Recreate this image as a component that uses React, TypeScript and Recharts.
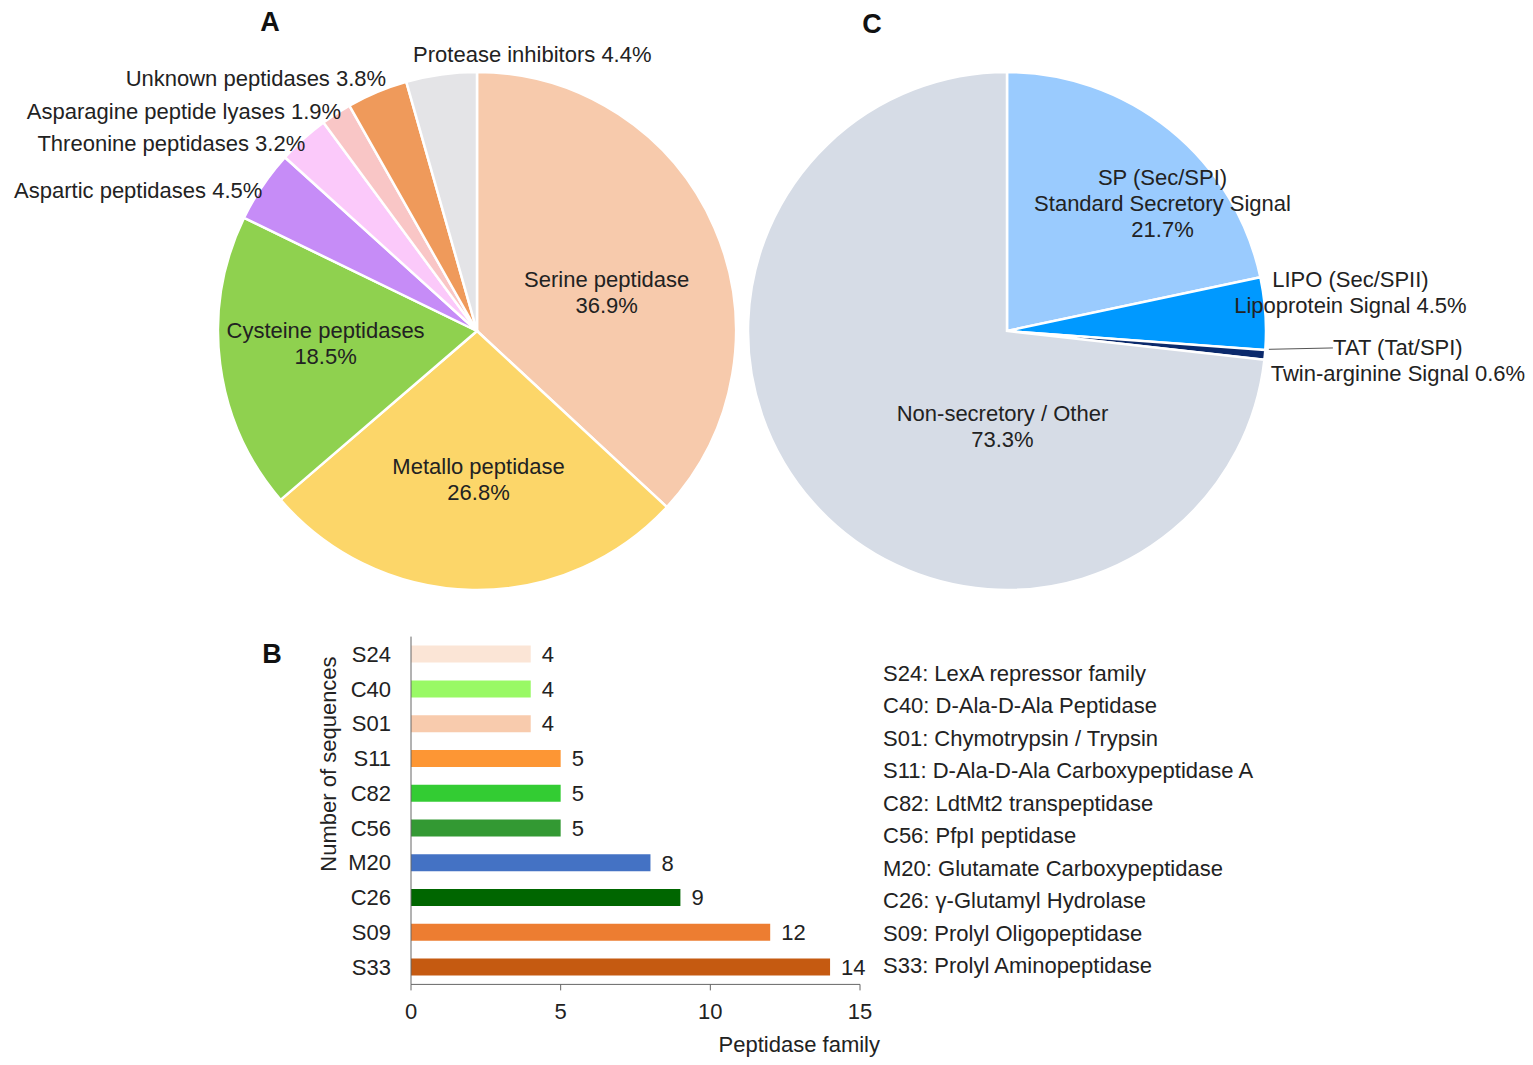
import React from 'react';
import {
  PieChart, Pie, Cell, BarChart, Bar, XAxis, YAxis, LabelList,
} from 'recharts';

// Panel A: peptidase classes (%)
const classNames = [
  'Serine peptidase',
  'Metallo peptidase',
  'Cysteine peptidases',
  'Aspartic peptidases',
  'Threonine peptidases',
  'Asparagine peptide lyases',
  'Unknown peptidases',
  'Protease inhibitors',
];
const classShares = [36.9, 26.8, 18.5, 4.5, 3.2, 1.9, 3.8, 4.4];

// Panel C: signal peptide types (%)
const signalNames = ['SP (Sec/SPI)', 'LIPO (Sec/SPII)', 'TAT (Tat/SPI)', 'Non-secretory / Other'];
const signalDescriptions = ['Standard Secretory Signal', 'Lipoprotein Signal', 'Twin-arginine Signal', ''];
const signalShares = [21.7, 4.5, 0.6, 73.3];

// Panel B: peptidase families
const families = ['S24', 'C40', 'S01', 'S11', 'C82', 'C56', 'M20', 'C26', 'S09', 'S33'];
const familyCounts = [4, 4, 4, 5, 5, 5, 8, 9, 12, 14];
const familyDescriptions = [
  'LexA repressor family',
  'D-Ala-D-Ala Peptidase',
  'Chymotrypsin / Trypsin',
  'D-Ala-D-Ala Carboxypeptidase A',
  'LdtMt2 transpeptidase',
  'PfpI peptidase',
  'Glutamate Carboxypeptidase',
  'γ-Glutamyl Hydrolase',
  'Prolyl Oligopeptidase',
  'Prolyl Aminopeptidase',
];
const xTicks = [0, 5, 10, 15];

const CLASS_COLORS = ['#F7CAAC', '#FCD669', '#8FD14F', '#C68CF7', '#FBC9FA', '#F9C6C6', '#EF9A5B', '#E4E4E7'];
const SIGNAL_COLORS = ['#9ACBFE', '#0099FF', '#0B2A6C', '#D6DCE6'];
const FAMILY_COLORS = ['#FBE5D6', '#99F965', '#F8CBAD', '#FD9634', '#33CC33', '#339933', '#4472C4', '#006600', '#ED7D31', '#C55A11'];

const FONT = '"Liberation Sans", Arial, sans-serif';
const TEXT = '#222';
const FS = 22;
const LH = 26;

const classData = classNames.map((name, i) => ({ name, value: classShares[i] }));
const signalData = signalNames.map((name, i) => ({ name, value: signalShares[i] }));
const familyData = families.map((family, i) => ({ family, count: familyCounts[i] }));

const pct = (v: number) => `${v.toFixed(1)}%`;

// label placement: radius factor along the slice's mid angle, plus a nudge
const classLabelLayout = [
  { f: 0.5, dx: 11, dy: 13, anchor: 'middle' },
  { f: 0.5, dx: 4, dy: 19, anchor: 'middle' },
  { f: 0.5, dx: -23, dy: -4, anchor: 'middle' },
  { f: 1, dx: 0, dy: 4, anchor: 'end' },
  { f: 1, dx: 2, dy: 5, anchor: 'end' },
  { f: 1, dx: 5, dy: -2, anchor: 'end' },
  { f: 1, dx: 9, dy: -14, anchor: 'end' },
  { f: 1, dx: 91, dy: -20, anchor: 'middle' },
];
const signalLabelLayout = [
  { f: 0.5, dx: 74, dy: -27, anchor: 'middle' },
  { f: 1, dx: 85, dy: -21, anchor: 'middle' },
  { f: 1, dx: 133, dy: 6, anchor: 'middle' },
  { f: 0.5, dx: 92, dy: 9, anchor: 'middle' },
];

const classLines = (i: number) =>
  i < 3 ? [classNames[i], pct(classShares[i])] : [`${classNames[i]} ${pct(classShares[i])}`];
const signalLines = (i: number) => {
  if (i === 0) return [signalNames[i], signalDescriptions[i], pct(signalShares[i])];
  if (i === 3) return [signalNames[i], pct(signalShares[i])];
  return [signalNames[i], `${signalDescriptions[i]} ${pct(signalShares[i])}`];
};

const RAD = Math.PI / 180;

const makeLabel = (layout: any[], linesFor: (i: number) => string[], leaderIndex = -1) => (props: any) => {
  const { cx, cy, midAngle, outerRadius, index } = props;
  const L = layout[index];
  const r = outerRadius * L.f;
  const bx = cx + r * Math.cos(-midAngle * RAD);
  const by = cy + r * Math.sin(-midAngle * RAD);
  const x = bx + L.dx;
  const y = by + L.dy;
  const lines = linesFor(index);
  const top = y - ((lines.length - 1) * LH) / 2;
  const text = (
    <text x={x} y={top} textAnchor={L.anchor} fontSize={FS} fill={TEXT} fontFamily={FONT}>
      {lines.map((t, k) => (
        <tspan key={k} x={x} y={top + k * LH} dominantBaseline="central">{t}</tspan>
      ))}
    </text>
  );
  if (index !== leaderIndex) return text;
  const sx = cx + (outerRadius + 4) * Math.cos(-midAngle * RAD);
  const sy = cy + (outerRadius + 4) * Math.sin(-midAngle * RAD);
  return (
    <g>
      <line x1={sx} y1={sy - 6} x2={bx + 68} y2={top} stroke="#555" strokeWidth={1} />
      {text}
    </g>
  );
};

const renderClassLabel = makeLabel(classLabelLayout, classLines);
const renderSignalLabel = makeLabel(signalLabelLayout, signalLines, 2);

export default function App() {
  return (
    <div style={{ position: 'absolute', left: 0, top: 0, width: 1533, height: 1065, background: '#fff', fontFamily: FONT }}>
      <div style={{ position: 'absolute', left: 0, top: 0 }}>
        <PieChart width={1533} height={600} margin={{ top: 0, right: 0, bottom: 0, left: 0 }}>
          <Pie
            data={classData}
            dataKey="value"
            cx={477}
            cy={331}
            outerRadius={259}
            startAngle={90}
            endAngle={-270}
            stroke="#fff"
            strokeWidth={2.5}
            label={renderClassLabel}
            labelLine={false}
            isAnimationActive={false}
          >
            {classData.map((_, i) => (
              <Cell key={`a-${i}`} fill={CLASS_COLORS[i]} />
            ))}
          </Pie>
          <Pie
            data={signalData}
            dataKey="value"
            cx={1007}
            cy={331}
            outerRadius={259}
            startAngle={90}
            endAngle={-270}
            stroke="#fff"
            strokeWidth={2.5}
            label={renderSignalLabel}
            labelLine={false}
            isAnimationActive={false}
          >
            {signalData.map((_, i) => (
              <Cell key={`c-${i}`} fill={SIGNAL_COLORS[i]} />
            ))}
          </Pie>
        </PieChart>
      </div>

      <div style={{ position: 'absolute', left: 300, top: 620 }}>
        <BarChart
          width={620}
          height={445}
          data={familyData}
          layout="vertical"
          margin={{ top: 16.6, right: 60, bottom: 20.6, left: 0 }}
        >
          <XAxis
            type="number"
            domain={[0, 15]}
            ticks={xTicks}
            height={60}
            tickSize={6}
            tickMargin={13}
            axisLine={{ stroke: '#666' }}
            tickLine={{ stroke: '#666' }}
            tick={{ fontSize: FS, fill: TEXT, fontFamily: FONT }}
          />
          <YAxis
            type="category"
            dataKey="family"
            width={111}
            tickLine={false}
            tickMargin={14}
            axisLine={{ stroke: '#666' }}
            tick={{ fontSize: FS, fill: TEXT, fontFamily: FONT }}
          />
          <Bar dataKey="count" barSize={17} isAnimationActive={false}>
            {familyData.map((_, i) => (
              <Cell key={`b-${i}`} fill={FAMILY_COLORS[i]} />
            ))}
            <LabelList dataKey="count" position="right" offset={11} fontSize={FS} fill={TEXT} fontFamily={FONT} />
          </Bar>
        </BarChart>
      </div>

      <svg width={1533} height={1065} style={{ position: 'absolute', left: 0, top: 0, pointerEvents: 'none' }}>
        <g fontFamily={FONT} fontWeight="bold" fontSize={27} fill="#111" textAnchor="middle">
          <text x={270} y={22} dominantBaseline="central">A</text>
          <text x={872} y={24} dominantBaseline="central">C</text>
          <text x={272} y={654} dominantBaseline="central">B</text>
        </g>
        <text
          x={328}
          y={764}
          transform="rotate(-90 328 764)"
          textAnchor="middle"
          dominantBaseline="central"
          fontFamily={FONT}
          fontSize={FS}
          fill={TEXT}
        >
          Number of sequences
        </text>
        <text x={880} y={1044} textAnchor="end" dominantBaseline="central" fontFamily={FONT} fontSize={FS} fill={TEXT}>
          Peptidase family
        </text>
        <g fontFamily={FONT} fontSize={FS} fill={TEXT}>
          {families.map((f, i) => (
            <text key={f} x={883} y={673 + i * 32.5} dominantBaseline="central">
              {`${f}: ${familyDescriptions[i]}`}
            </text>
          ))}
        </g>
      </svg>
    </div>
  );
}
